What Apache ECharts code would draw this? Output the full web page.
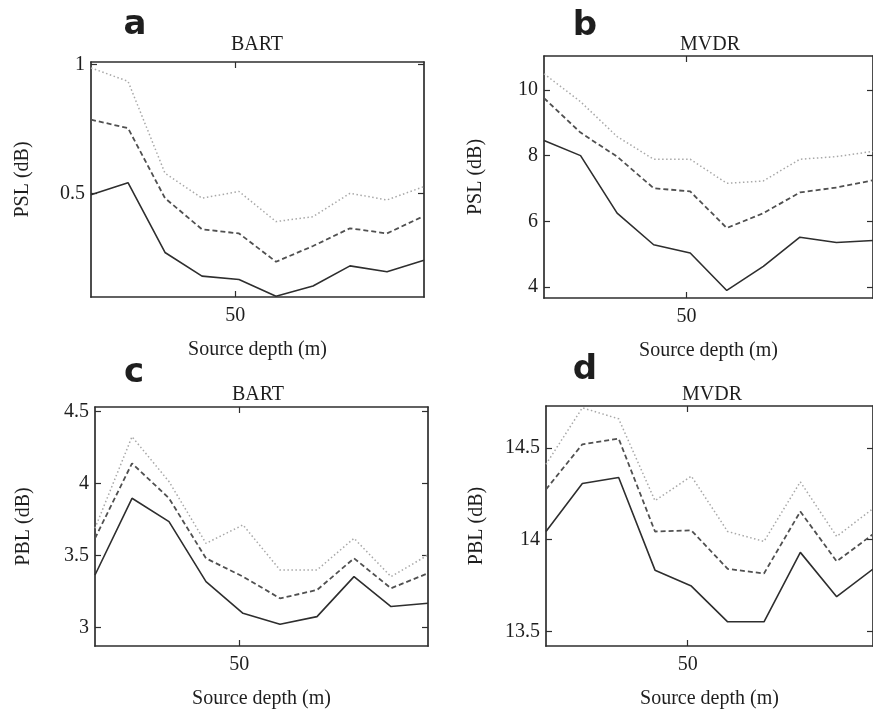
<!DOCTYPE html>
<html>
<head>
<meta charset="utf-8">
<script src="https://cdn.jsdelivr.net/npm/echarts@6/dist/echarts.min.js"></script>
<style>
  html, body { margin: 0; padding: 0; background: #fff; }
  #chart { width: 873px; height: 714px; }
</style>
</head>
<body>
<div id="chart"></div>
<script>
// source depth (m), shared by all panels
var depth = [11, 21, 31, 41, 51, 61, 71, 81, 91, 101];
var depthTicks = [50];

// a - PSL, BART
var pslBartSolid  = [0.494, 0.541, 0.270, 0.178, 0.165, 0.100, 0.140, 0.218, 0.195, 0.240];
var pslBartDashed = [0.786, 0.753, 0.481, 0.360, 0.344, 0.234, 0.295, 0.364, 0.344, 0.412];
var pslBartDotted = [0.987, 0.935, 0.578, 0.481, 0.507, 0.390, 0.409, 0.500, 0.474, 0.526];
var pslBartTicks  = [0.5, 1];

// b - PSL, MVDR
var pslMvdrSolid  = [8.46, 8.00, 6.25, 5.29, 5.04, 3.90, 4.63, 5.52, 5.36, 5.42];
var pslMvdrDashed = [9.75, 8.70, 7.97, 7.01, 6.91, 5.80, 6.25, 6.88, 7.03, 7.25];
var pslMvdrDotted = [10.49, 9.64, 8.58, 7.89, 7.89, 7.16, 7.23, 7.89, 7.97, 8.13];
var pslMvdrTicks  = [4, 6, 8, 10];

// c - PBL, BART
var pblBartSolid  = [3.363, 3.896, 3.734, 3.317, 3.097, 3.021, 3.074, 3.352, 3.144, 3.167];
var pblBartDashed = [3.618, 4.139, 3.896, 3.479, 3.352, 3.201, 3.259, 3.479, 3.271, 3.375];
var pblBartDotted = [3.688, 4.324, 4.012, 3.583, 3.711, 3.398, 3.398, 3.618, 3.352, 3.502];
var pblBartTicks  = [3, 3.5, 4, 4.5];

// d - PBL, MVDR
var pblMvdrSolid  = [14.045, 14.307, 14.340, 13.834, 13.747, 13.552, 13.552, 13.931, 13.689, 13.84];
var pblMvdrDashed = [14.275, 14.521, 14.552, 14.045, 14.051, 13.841, 13.816, 14.154, 13.882, 14.03];
var pblMvdrDotted = [14.412, 14.720, 14.660, 14.213, 14.347, 14.045, 13.991, 14.316, 14.018, 14.17];
var pblMvdrTicks  = [13.5, 14, 14.5];

var panels = [
  { letter: 'a', title: 'BART', yName: 'PSL (dB)', lines: [pslBartSolid, pslBartDashed, pslBartDotted],
    yTicks: pslBartTicks, min: 0.097, max: 1.01, left: 91, top: 62, height: 235, nameGap: 58,
    letterPos: [135, 25], titlePos: [257, 45] },
  { letter: 'b', title: 'MVDR', yName: 'PSL (dB)', lines: [pslMvdrSolid, pslMvdrDashed, pslMvdrDotted],
    yTicks: pslMvdrTicks, min: 3.67, max: 11.03, left: 544, top: 56, height: 242, nameGap: 58,
    letterPos: [585, 26], titlePos: [710, 45] },
  { letter: 'c', title: 'BART', yName: 'PBL (dB)', lines: [pblBartSolid, pblBartDashed, pblBartDotted],
    yTicks: pblBartTicks, min: 2.87, max: 4.53, left: 95, top: 407, height: 239, nameGap: 61,
    letterPos: [134, 373], titlePos: [258, 395] },
  { letter: 'd', title: 'MVDR', yName: 'PBL (dB)', lines: [pblMvdrSolid, pblMvdrDashed, pblMvdrDotted],
    yTicks: pblMvdrTicks, min: 13.42, max: 14.73, left: 546, top: 406, height: 240, nameGap: 59,
    letterPos: [585, 370], titlePos: [712, 395] }
];

var lineStyles = [
  { type: 'solid', color: '#2e2e2e', width: 1.6 },
  { type: [5, 3], color: '#505050', width: 1.8 },
  { type: [1.5, 2.5], color: '#a8a8a8', width: 1.5 }
];

var serif = 'Liberation Serif, Times New Roman, serif';
var axisColor = '#2e2e2e';

var grid = [], xAxis = [], yAxis = [], series = [], graphic = [];

panels.forEach(function (p, i) {
  grid.push({ left: p.left, top: p.top, width: 333, height: p.height });

  var lineCfg = { show: true, onZero: false, lineStyle: { color: axisColor, width: 1.7 } };
  var labelCfg = { fontFamily: serif, fontSize: 20, color: '#1e1e1e' };

  // bottom + top (mirror ticks)
  ['bottom', 'top'].forEach(function (pos) {
    xAxis.push({
      type: 'value', gridIndex: i, position: pos, min: 11, max: 101,
      name: pos === 'bottom' ? 'Source depth (m)' : '',
      nameLocation: 'middle', nameGap: 43,
      nameTextStyle: { fontFamily: serif, fontSize: 20, color: '#1e1e1e' },
      axisLine: lineCfg,
      axisTick: { show: true, inside: true, length: 6, customValues: depthTicks,
        lineStyle: { color: axisColor, width: 1.2 } },
      axisLabel: Object.assign({ show: pos === 'bottom', margin: 9, customValues: depthTicks }, labelCfg),
      splitLine: { show: false }
    });
  });

  // left + right (mirror ticks)
  ['left', 'right'].forEach(function (pos) {
    yAxis.push({
      type: 'value', gridIndex: i, position: pos, min: p.min, max: p.max,
      name: pos === 'left' ? p.yName : '',
      nameLocation: 'middle', nameGap: p.nameGap,
      nameTextStyle: { fontFamily: serif, fontSize: 20, color: '#1e1e1e' },
      axisLine: lineCfg,
      axisTick: { show: true, inside: true, length: 6, customValues: p.yTicks,
        lineStyle: { color: axisColor, width: 1.2 } },
      axisLabel: Object.assign({ show: pos === 'left', margin: 6, customValues: p.yTicks }, labelCfg),
      splitLine: { show: false }
    });
  });

  // dotted first so solid sits on top
  [2, 1, 0].forEach(function (k) {
    series.push({
      type: 'line', xAxisIndex: i * 2, yAxisIndex: i * 2,
      data: depth.map(function (d, j) { return [d, p.lines[k][j]]; }),
      symbol: 'none', lineStyle: lineStyles[k], silent: true
    });
  });

  graphic.push({
    type: 'text', x: p.letterPos[0], y: p.letterPos[1],
    style: { text: p.letter, align: 'center', verticalAlign: 'middle',
      font: 'bold 34px "DejaVu Sans", sans-serif', fill: '#1e1e1e' }
  });
  graphic.push({
    type: 'text', x: p.titlePos[0], y: p.titlePos[1],
    style: { text: p.title, align: 'center', verticalAlign: 'middle',
      font: '20px "Liberation Serif", serif', fill: '#1e1e1e' }
  });
});

var myChart = echarts.init(document.getElementById('chart'));
myChart.setOption({
  animation: false,
  backgroundColor: '#fff',
  grid: grid,
  xAxis: xAxis,
  yAxis: yAxis,
  series: series,
  graphic: graphic
});
</script>
</body>
</html>
